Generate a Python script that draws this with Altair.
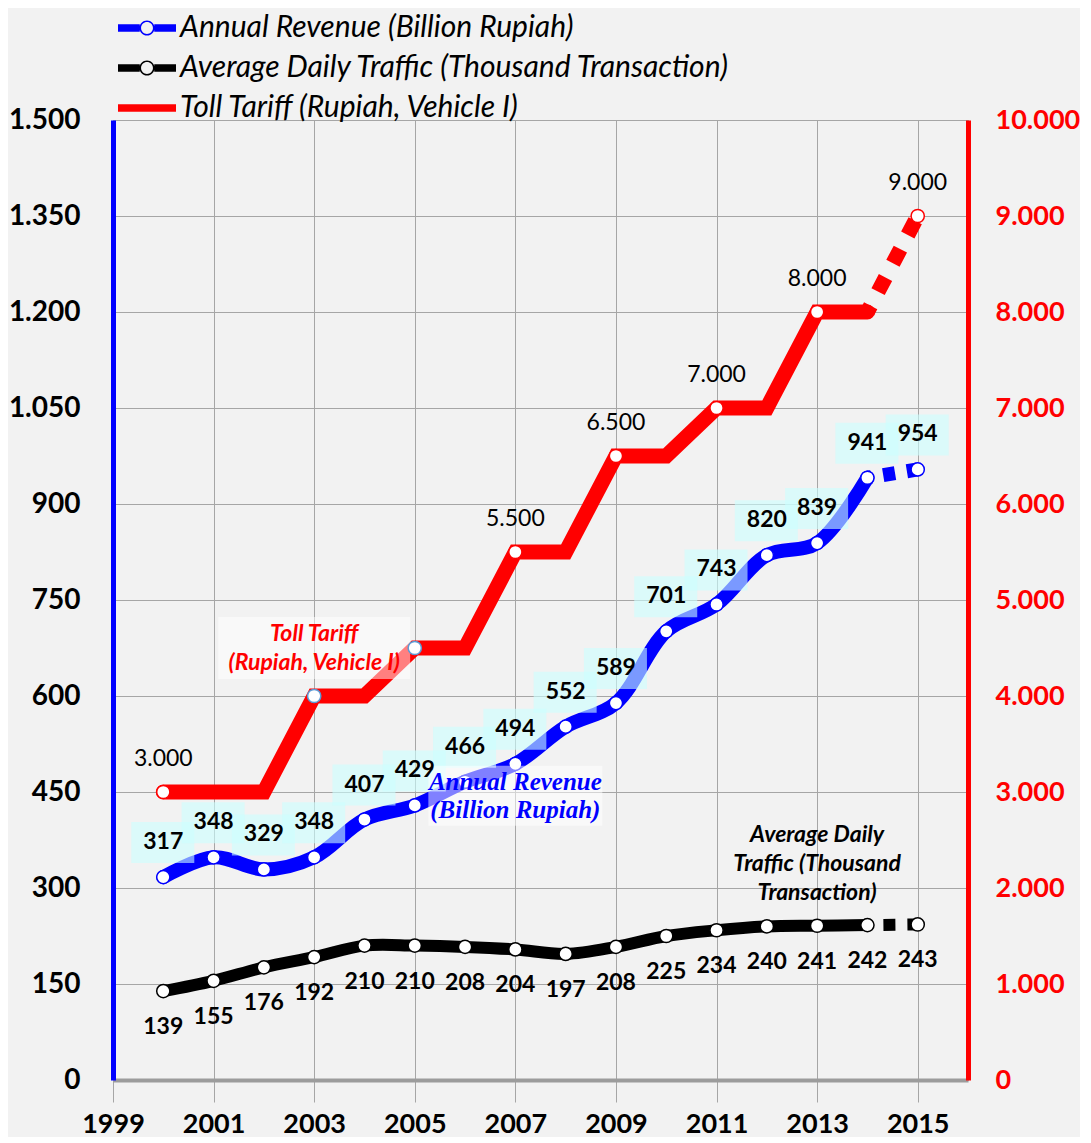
import altair as alt
import pandas as pd

# ---------------- data ----------------
years = list(range(2000, 2016))
revenue = [317, 348, 329, 348, 407, 429, 466, 494, 552, 589, 701, 743, 820, 839, 941, 954]
traffic = [139, 155, 176, 192, 210, 210, 208, 204, 197, 208, 225, 234, 240, 241, 242, 243]
tariff = [3000, 3000, 3000, 4000, 4000, 4500, 4500, 5500, 5500, 6500, 6500, 7000, 7000, 8000, 8000, 9000]
tariff_marker_years = [2000, 2003, 2005, 2007, 2009, 2011, 2013, 2015]
tariff_blue_marker_years = [2003, 2005]
tariff_label_years = [2000, 2007, 2009, 2011, 2013, 2015]
last_actual_year = 2014  # 2014 -> 2015 drawn dashed (projection)

series_names = [
    "Annual Revenue (Billion Rupiah)",
    "Average Daily Traffic (Thousand Transaction)",
    "Toll Tariff (Rupiah, Vehicle I)",
]
series_colors = ["#0000ff", "#000000", "#ff0000"]

x_ticks = list(range(1999, 2016, 2))
left_ticks = list(range(0, 1501, 150))
right_ticks = list(range(0, 10001, 1000))

# annotation anchors (data units)
ann_tariff_text = ["Toll Tariff\n(Rupiah, Vehicle I)"]
ann_tariff_year = [2003]
ann_tariff_value = [4500]
ann_rev_text = ["Annual Revenue\n(Billion Rupiah)"]
ann_rev_year = [2007]
ann_rev_value = [444]
ann_trf_text = ["Average Daily\nTraffic (Thousand\nTransaction)"]
ann_trf_year = [2013]
ann_trf_value = [337]

# ---------------- frames ----------------
def dotted(v):
    return f"{v:,}".replace(",", ".")

df = pd.DataFrame({"year": years, "revenue": revenue, "traffic": traffic, "tariff": tariff})
df["tariff_lbl"] = [dotted(v) for v in tariff]
actual = df[df.year <= last_actual_year]
proj = df[df.year >= last_actual_year]
t_mark_red = df[df.year.isin(tariff_marker_years) & ~df.year.isin(tariff_blue_marker_years)]
t_mark_blue = df[df.year.isin(tariff_blue_marker_years)]
t_lbl = df[df.year.isin(tariff_label_years)]
ann_t_df = pd.DataFrame({"year": ann_tariff_year, "v": ann_tariff_value, "t": ann_tariff_text})
ann_r_df = pd.DataFrame({"year": ann_rev_year, "v": ann_rev_value, "t": ann_rev_text})
ann_k_df = pd.DataFrame({"year": ann_trf_year, "v": ann_trf_value, "t": ann_trf_text})

FONT = "Lato"
GRID = "#a6a6a6"
MSIZE = 175

X = alt.X(
    "year:Q",
    scale=alt.Scale(domain=[1999, 2016], nice=False, zero=False),
    axis=alt.Axis(
        values=x_ticks, format="d", title=None, grid=True, gridColor=GRID,
        tickColor=GRID, tickSize=22, labelFont=FONT, labelFontWeight="bold",
        labelFontSize=27, labelColor="black", labelPadding=9, labelFlush=False,
        labelOverlap=False, domainColor="#9c9c9c", domainWidth=4,
    ),
)

L_SCALE = alt.Scale(domain=[0, 1500], nice=False, zero=True)
L_AXIS = alt.Axis(
    values=left_ticks, orient="left", title=None, grid=True, gridColor=GRID,
    ticks=False, domainColor="#0000ff", domainWidth=5, labelFont=FONT,
    labelFontWeight="bold", labelFontSize=28, labelColor="black", labelPadding=33,
    labelExpr="replace(format(datum.value, ','), ',', '.')",
)
R_SCALE = alt.Scale(domain=[0, 10000], nice=False, zero=True)
R_AXIS = alt.Axis(
    values=right_ticks, orient="right", title=None, grid=False, ticks=False,
    domainColor="#ff0000", domainWidth=5, labelFont=FONT, labelFontWeight="bold",
    labelFontSize=27, labelColor="#ff0000", labelPadding=27,
    labelExpr="replace(format(datum.value, ','), ',', '.')",
)

def YL(field):
    return alt.Y(f"{field}:Q", scale=L_SCALE, axis=L_AXIS)

def YR(field):
    return alt.Y(f"{field}:Q", scale=R_SCALE, axis=R_AXIS)

# ---------------- tariff (right axis) ----------------
t_line = alt.Chart(actual).mark_line(color="#ff0000", strokeWidth=15, strokeCap="round").encode(x=X, y=YR("tariff"))
t_dash = alt.Chart(proj).mark_line(color="#ff0000", strokeWidth=15, strokeCap="butt",
                                   strokeDash=[16, 16], strokeDashOffset=9).encode(x=X, y=YR("tariff"))
t_box = alt.Chart(ann_t_df).mark_rect(color="white", opacity=0.5, xOffset=-96, x2Offset=96,
                                      yOffset=-31, y2Offset=31).encode(
    x=X, x2=alt.X2("year:Q"), y=YR("v"), y2=alt.Y2("v:Q"))
t_pts = alt.Chart(t_mark_red).mark_point(filled=True, fill="white", stroke="#ff0000", strokeWidth=1.5,
                                         size=MSIZE, opacity=1).encode(x=X, y=YR("tariff"))
t_pts_b = alt.Chart(t_mark_blue).mark_point(filled=True, fill="white", stroke="#5b9bd5", strokeWidth=1.5,
                                            size=MSIZE, opacity=1).encode(x=X, y=YR("tariff"))
t_txt = alt.Chart(t_lbl).mark_text(dy=-33, font=FONT, fontSize=23, color="black").encode(
    x=X, y=YR("tariff"), text="tariff_lbl:N")
ann_t = alt.Chart(ann_t_df).mark_text(
    font=FONT, fontSize=23, fontWeight="bold", fontStyle="italic", color="#ff0000",
    lineBreak="\n", lineHeight=29, baseline="middle", dy=-14).encode(x=X, y=YR("v"), text="t:N")
tariff_group = alt.layer(t_line, t_dash, t_box, t_pts, t_pts_b, t_txt, ann_t)

# ---------------- revenue & traffic (left axis) ----------------
r_line = alt.Chart(actual).mark_line(color="#0000ff", strokeWidth=14, strokeCap="round",
                                     interpolate="catmull-rom").encode(x=X, y=YL("revenue"))
r_dash = alt.Chart(proj).mark_line(color="#0000ff", strokeWidth=14, strokeCap="butt",
                                   strokeDash=[12, 12], strokeDashOffset=8).encode(x=X, y=YL("revenue"))
k_line = alt.Chart(actual).mark_line(color="#000000", strokeWidth=12, strokeCap="round",
                                     interpolate="catmull-rom").encode(x=X, y=YL("traffic"))
k_dash = alt.Chart(proj).mark_line(color="#000000", strokeWidth=12, strokeCap="butt",
                                   strokeDash=[12, 12], strokeDashOffset=8).encode(x=X, y=YL("traffic"))
r_box = alt.Chart(df).mark_rect(color="#ccffff", opacity=0.6, xOffset=-32, x2Offset=31,
                                yOffset=-55, y2Offset=-14).encode(
    x=X, x2=alt.X2("year:Q"), y=YL("revenue"), y2=alt.Y2("revenue:Q"))
r_pts = alt.Chart(df).mark_point(filled=True, fill="white", stroke="#0000ff", strokeWidth=1.5,
                                 size=MSIZE, opacity=1).encode(x=X, y=YL("revenue"))
k_pts = alt.Chart(df).mark_point(filled=True, fill="white", stroke="#000000", strokeWidth=1.5,
                                 size=MSIZE, opacity=1).encode(x=X, y=YL("traffic"))
a_box = alt.Chart(ann_r_df).mark_rect(color="white", opacity=0.5, xOffset=-87, x2Offset=87,
                                      yOffset=-30, y2Offset=30).encode(
    x=X, x2=alt.X2("year:Q"), y=YL("v"), y2=alt.Y2("v:Q"))
r_txt = alt.Chart(df).mark_text(dy=-35, font=FONT, fontSize=23, fontWeight="bold", color="black").encode(
    x=X, y=YL("revenue"), text="revenue:Q")
k_txt = alt.Chart(df).mark_text(dy=36, font=FONT, fontSize=23, fontWeight="bold", color="black").encode(
    x=X, y=YL("traffic"), text="traffic:Q")
ann_r = alt.Chart(ann_r_df).mark_text(
    font="Liberation Serif", fontSize=25, fontWeight="bold", fontStyle="italic", color="#0000ff",
    lineBreak="\n", lineHeight=28, baseline="middle", dy=-14).encode(x=X, y=YL("v"), text="t:N")
ann_k = alt.Chart(ann_k_df).mark_text(
    font=FONT, fontSize=23, fontWeight="bold", fontStyle="italic", color="black",
    lineBreak="\n", lineHeight=29, baseline="middle", dy=-29).encode(x=X, y=YL("v"), text="t:N")

# legend symbols: thick line with hollow circle / plain thick line (path spans +-2 units)
P_CIRC = ("M-2,-0.26 L-0.5,-0.26 L-0.5,0.26 L-2,0.26 Z "
          "M0.5,-0.26 L2,-0.26 L2,0.26 L0.5,0.26 Z "
          "M0.52,0 A0.52,0.52 0 1 1 -0.52,0 A0.52,0.52 0 1 1 0.52,0 Z "
          "M0.41,0 A0.41,0.41 0 1 0 -0.41,0 A0.41,0.41 0 1 0 0.41,0 Z")
P_LINE = "M-2,-0.26 L2,-0.26 L2,0.26 L-2,0.26 Z"
LEG = alt.Legend(
    title=None, orient="none", legendX=19, legendY=-107, direction="vertical", padding=0,
    labelFont=FONT, labelFontStyle="italic", labelFontSize=30, labelColor="black", labelLimit=0,
    labelOffset=18, symbolSize=841, symbolStrokeWidth=0, symbolOpacity=1, rowPadding=10,
)
legend_layer = alt.Chart(pd.DataFrame({"series": series_names})).mark_point(filled=True, opacity=0).encode(
    color=alt.Color("series:N", scale=alt.Scale(domain=series_names, range=series_colors), legend=LEG),
    shape=alt.Shape("series:N", scale=alt.Scale(domain=series_names, range=[P_CIRC, P_CIRC, P_LINE]), legend=LEG),
)

left_group = alt.layer(r_line, r_dash, k_line, k_dash, r_box, r_pts, k_pts, a_box,
                       r_txt, k_txt, ann_r, ann_k, legend_layer)

chart = (
    alt.layer(tariff_group, left_group)
    .resolve_scale(y="independent")
    .properties(width=855, height=960, background="#f2f2f2",
                padding={"top": 5, "left": 0, "right": 0, "bottom": 0})
    .configure_view(fill="white", stroke=GRID, strokeWidth=1)
)

chart.save("out.html", embed_options={"renderer": "svg", "actions": False})
